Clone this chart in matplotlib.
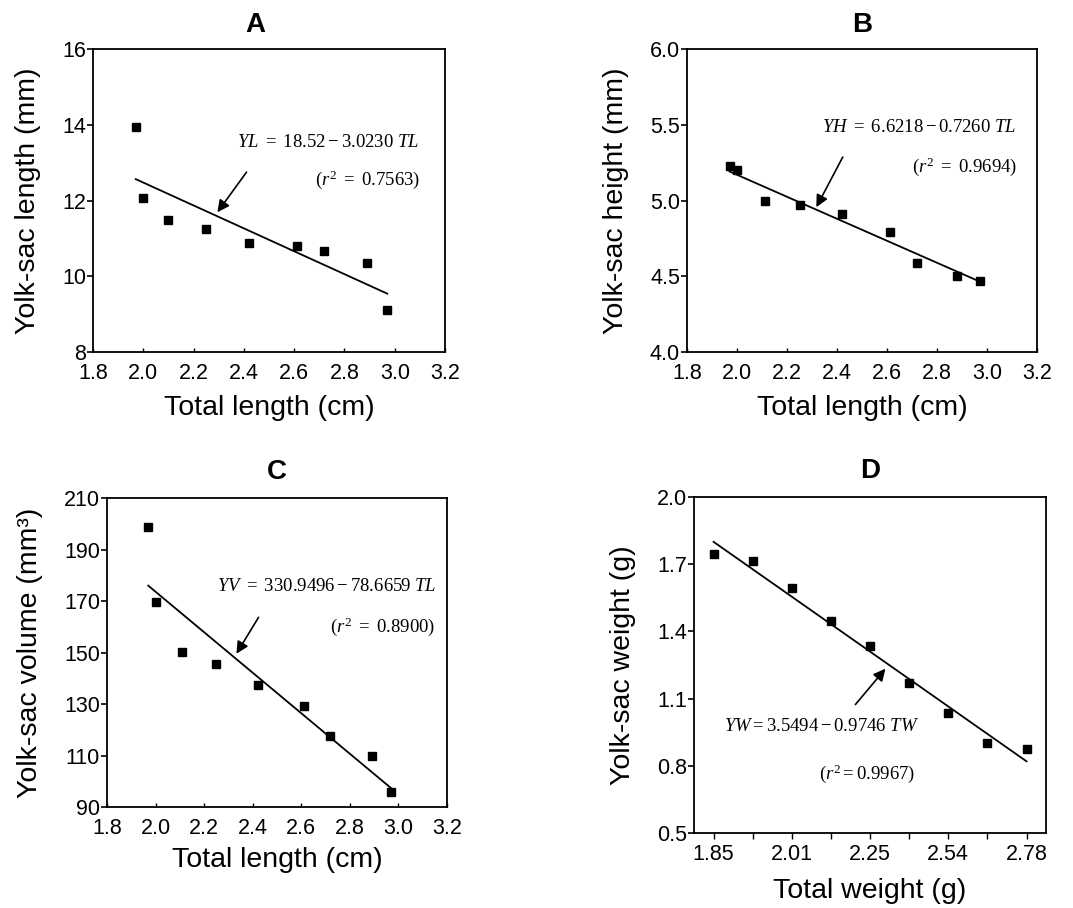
import numpy as np
import matplotlib
matplotlib.use("Agg")
from matplotlib import pyplot as plt

plt.rcParams['font.family'] = ['Liberation Sans', 'DejaVu Sans']
plt.rcParams['mathtext.fontset'] = 'custom'
plt.rcParams['mathtext.rm'] = 'Liberation Serif'
plt.rcParams['mathtext.it'] = 'Liberation Serif:italic'

# Data
# Panel A - yolk-sac length vs total length
a_tl = [1.97, 2.00, 2.10, 2.25, 2.42, 2.61, 2.72, 2.89, 2.97]
a_yl = [13.93, 12.06, 11.48, 11.26, 10.89, 10.80, 10.66, 10.35, 9.10]
a_coef = (18.52, -3.0230)

# Panel B - yolk-sac height vs total length
b_tl = [1.97, 2.00, 2.11, 2.25, 2.42, 2.61, 2.72, 2.88, 2.97]
b_yh = [5.23, 5.20, 5.00, 4.97, 4.91, 4.79, 4.59, 4.50, 4.47]
b_coef = (6.6218, -0.7260)

# Panel C - yolk-sac volume vs total length
c_tl = [1.97, 2.00, 2.11, 2.25, 2.42, 2.61, 2.72, 2.89, 2.97]
c_yv = [198.7, 169.8, 150.2, 145.5, 137.3, 129.2, 117.5, 110.0, 95.8]
c_coef = (330.9496, -78.6659)

# Panel D - yolk-sac weight vs total weight (axis drawn as evenly spaced categories)
d_tw_labels = ['1.85', '2.01', '2.25', '2.54', '2.78']
d_yw = [1.745, 1.715, 1.596, 1.445, 1.335, 1.171, 1.038, 0.900, 0.873]
d_fit = [1.80, 0.82]

lab_fs = 20.5
tick_fs = 15.5
eq_fs = 13.5
ttl_fs = 20
ylab_pad = 15


def style_axes(ax):
    for s in ax.spines.values():
        s.set_linewidth(1.3)
    ax.tick_params(axis='y', direction='out', length=4, width=1.2, pad=1, labelsize=tick_fs)
    ax.tick_params(axis='x', direction='in', length=3, width=1.0, pad=8, labelsize=tick_fs)


def draw_fit(ax, x, coef):
    xs = np.array([x[0], x[-1]])
    ax.plot(xs, coef[0] + coef[1] * xs, color='black', lw=1.3)


fig = plt.figure(figsize=(10.73, 9.08), dpi=100)

# ---- A ----
ax = fig.add_axes([0.0867, 0.6123, 0.3281, 0.3337])
ax.plot(a_tl, a_yl, 's', color='black', ms=5.5)
draw_fit(ax, a_tl, a_coef)
ax.set_xlim(1.8, 3.2)
ax.set_ylim(8, 16)
ax.set_xticks(np.arange(1.8, 3.21, 0.2))
ax.set_yticks([8, 10, 12, 14, 16])
ax.set_xlabel('Total length (cm)', fontsize=lab_fs, labelpad=8)
ax.set_ylabel('Yolk-sac length (mm)', fontsize=lab_fs, labelpad=ylab_pad)
ax.set_title('A', fontsize=ttl_fs, fontweight='bold', x=0.46, pad=12)
ax.annotate('', xy=(2.288, 11.63), xytext=(2.417, 12.81),
            arrowprops=dict(arrowstyle='-|>', color='black', lw=1.2, mutation_scale=18))
ax.text(2.733, 13.54, r'$YL\ =\ 18.52 - 3.0230\ TL$', fontsize=eq_fs, ha='center', va='center')
ax.text(2.891, 12.55, r'$(r^2\ =\ 0.7563)$', fontsize=eq_fs, ha='center', va='center')
style_axes(ax)

# ---- B ----
ax = fig.add_axes([0.6403, 0.6123, 0.3262, 0.3337])
ax.plot(b_tl, b_yh, 's', color='black', ms=5.5)
draw_fit(ax, b_tl, b_coef)
ax.set_xlim(1.8, 3.2)
ax.set_ylim(4.0, 6.0)
ax.set_xticks(np.arange(1.8, 3.21, 0.2))
ax.set_yticks(np.arange(4.0, 6.01, 0.5))
ax.set_yticklabels(['4.0', '4.5', '5.0', '5.5', '6.0'])
ax.set_xlabel('Total length (cm)', fontsize=lab_fs, labelpad=8)
ax.set_ylabel('Yolk-sac height (mm)', fontsize=lab_fs, labelpad=ylab_pad)
ax.set_title('B', fontsize=ttl_fs, fontweight='bold', pad=12)
ax.annotate('', xy=(2.312, 4.94), xytext=(2.428, 5.303),
            arrowprops=dict(arrowstyle='-|>', color='black', lw=1.2, mutation_scale=18))
ax.text(2.730, 5.479, r'$YH\ =\ 6.6218 - 0.7260\ TL$', fontsize=eq_fs, ha='center', va='center')
ax.text(2.911, 5.226, r'$(r^2\ =\ 0.9694)$', fontsize=eq_fs, ha='center', va='center')
style_axes(ax)

# ---- C ----
ax = fig.add_axes([0.0997, 0.1112, 0.3169, 0.3403])
ax.plot(c_tl, c_yv, 's', color='black', ms=5.5)
draw_fit(ax, c_tl, c_coef)
ax.set_xlim(1.8, 3.2)
ax.set_ylim(90, 210)
ax.set_xticks(np.arange(1.8, 3.21, 0.2))
ax.set_yticks(np.arange(90, 211, 20))
ax.set_xlabel('Total length (cm)', fontsize=lab_fs, labelpad=6)
ax.set_ylabel('Yolk-sac volume (mm³)', fontsize=lab_fs, labelpad=ylab_pad)
ax.set_title('C', fontsize=ttl_fs, fontweight='bold', pad=14)
ax.annotate('', xy=(2.327, 148.6), xytext=(2.430, 164.6),
            arrowprops=dict(arrowstyle='-|>', color='black', lw=1.2, mutation_scale=18))
ax.text(2.705, 175.6, r'$\mathit{YV\ =\ 330.9496 - 78.6659\ TL}$', fontsize=eq_fs, ha='center', va='center')
ax.text(2.935, 160.1, r'$(r^2\ =\ 0.8900)$', fontsize=eq_fs, ha='center', va='center')
style_axes(ax)

# ---- D ----
ax = fig.add_axes([0.6468, 0.0826, 0.3281, 0.3700])
d_pos = np.arange(len(d_yw))
ax.plot(d_pos, d_yw, 's', color='black', ms=5.5)
ax.plot([d_pos[0], d_pos[-1]], d_fit, color='black', lw=1.3)
ax.set_xlim(-0.5, 8.5)
ax.set_ylim(0.5, 2.0)
ax.set_xticks(d_pos[::2])
ax.set_xticklabels(d_tw_labels)
ax.set_xticks(d_pos[1::2], minor=True)
ax.set_yticks(np.arange(0.5, 2.01, 0.3))
ax.set_yticklabels(['0.5', '0.8', '1.1', '1.4', '1.7', '2.0'])
ax.set_xlabel('Total weight (g)', fontsize=lab_fs, labelpad=9)
ax.set_ylabel('Yolk-sac weight (g)', fontsize=lab_fs, labelpad=ylab_pad)
ax.set_title('D', fontsize=ttl_fs, fontweight='bold', pad=14)
ax.annotate('', xy=(4.44, 1.243), xytext=(3.58, 1.064),
            arrowprops=dict(arrowstyle='-|>', color='black', lw=1.2, mutation_scale=18))
ax.text(2.76, 0.974, r'$\mathit{YW = 3.5494 - 0.9746\ TW}$', fontsize=eq_fs, ha='center', va='center')
ax.text(3.92, 0.765, r'$\mathit{(r^2 = 0.9967)}$', fontsize=eq_fs, ha='center', va='center')
style_axes(ax)
ax.tick_params(axis='x', which='both', direction='out', length=4, width=1.0, pad=4)

fig.savefig('out.png', dpi=100)
